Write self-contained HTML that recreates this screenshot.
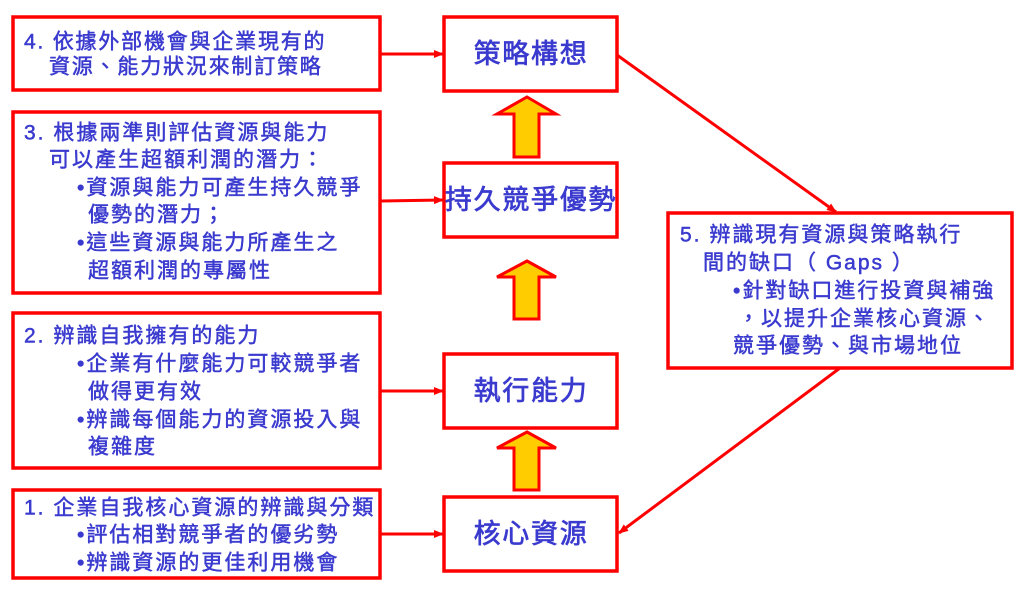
<!DOCTYPE html>
<html><head><meta charset="utf-8"><style>
html,body{margin:0;padding:0;background:#fff}
svg{display:block}
text{font-family:"Liberation Sans","Noto Sans CJK TC",sans-serif;fill:#3a3acf;stroke:#3a3acf;stroke-width:0.5px;font-size:21px;letter-spacing:2px;dominant-baseline:central}
.c{font-size:27px;letter-spacing:1.7px;text-anchor:middle;stroke-width:0.7px}
</style></head><body>
<svg width="1024" height="592" viewBox="0 0 1024 592" xmlns="http://www.w3.org/2000/svg">
<defs>
<marker id="a" markerWidth="10" markerHeight="8" refX="9" refY="4" orient="auto" markerUnits="userSpaceOnUse">
<path d="M0,0 L10,4 L0,8 z" fill="#ff0000"/></marker>
</defs>
<g fill="none" stroke="#ff0000" stroke-width="3.5">
<rect x="13" y="17" width="367" height="73"/>
<rect x="13" y="112" width="367" height="181"/>
<rect x="13" y="313" width="367" height="155"/>
<rect x="13" y="490" width="367" height="88"/>
<rect x="444" y="17" width="173" height="74"/>
<rect x="444" y="163" width="173" height="74"/>
<rect x="444" y="354" width="173" height="74"/>
<rect x="444" y="497" width="173" height="74"/>
<rect x="668" y="213" width="344" height="155"/>
</g>
<g stroke="#ff0000" stroke-width="3" fill="none">
<line x1="381" y1="54" x2="443" y2="54" marker-end="url(#a)"/>
<line x1="381" y1="201" x2="443" y2="200" marker-end="url(#a)"/>
<line x1="381" y1="391" x2="443" y2="391" marker-end="url(#a)"/>
<line x1="381" y1="534" x2="443" y2="534" marker-end="url(#a)"/>
<line x1="617" y1="55" x2="836" y2="212" marker-end="url(#a)"/>
<line x1="840" y1="368" x2="619" y2="533" marker-end="url(#a)"/>
</g>
<g fill="#ffcc00" stroke="#ff0000" stroke-width="3">
<path d="M527,97 L556,114 L539,114 L539,157 L514,157 L514,114 L497,114 Z"/>
<path d="M527,261 L556,277 L539,277 L539,319 L514,319 L514,277 L497,277 Z"/>
<path d="M527,432 L556,448 L539,448 L539,490 L514,490 L514,448 L497,448 Z"/>
</g>
<text x="24" y="42" style="letter-spacing:1.8px">4. 依據外部機會與企業現有的</text>
<text x="49" y="67" style="letter-spacing:1.8px">資源、能力狀況來制訂策略</text>
<text x="24" y="133">3. 根據兩準則評估資源與能力</text>
<text x="49" y="160">可以產生超額利潤的潛力：</text>
<text x="77" y="188">•資源與能力可產生持久競爭</text>
<text x="88" y="215">優勢的潛力；</text>
<text x="77" y="243">•這些資源與能力所產生之</text>
<text x="88" y="271">超額利潤的專屬性</text>
<text x="24" y="336">2. 辨識自我擁有的能力</text>
<text x="77" y="364">•企業有什麼能力可較競爭者</text>
<text x="88" y="392">做得更有效</text>
<text x="77" y="420">•辨識每個能力的資源投入與</text>
<text x="88" y="447">複雜度</text>
<text x="24" y="508">1. 企業自我核心資源的辨識與分類</text>
<text x="77" y="535">•評估相對競爭者的優劣勢</text>
<text x="77" y="563">•辨識資源的更佳利用機會</text>
<text x="680" y="235">5. 辨識現有資源與策略執行</text>
<text x="703" y="263">間的缺口（ Gaps ）</text>
<text x="733" y="291">•針對缺口進行投資與補強</text>
<text x="738" y="319">，以提升企業核心資源、</text>
<text x="733" y="346">競爭優勢、與市場地位</text>
<text class="c" x="531" y="54">策略構想</text>
<text class="c" x="531" y="200">持久競爭優勢</text>
<text class="c" x="531" y="391">執行能力</text>
<text class="c" x="531" y="534">核心資源</text>
</svg>
</body></html>
